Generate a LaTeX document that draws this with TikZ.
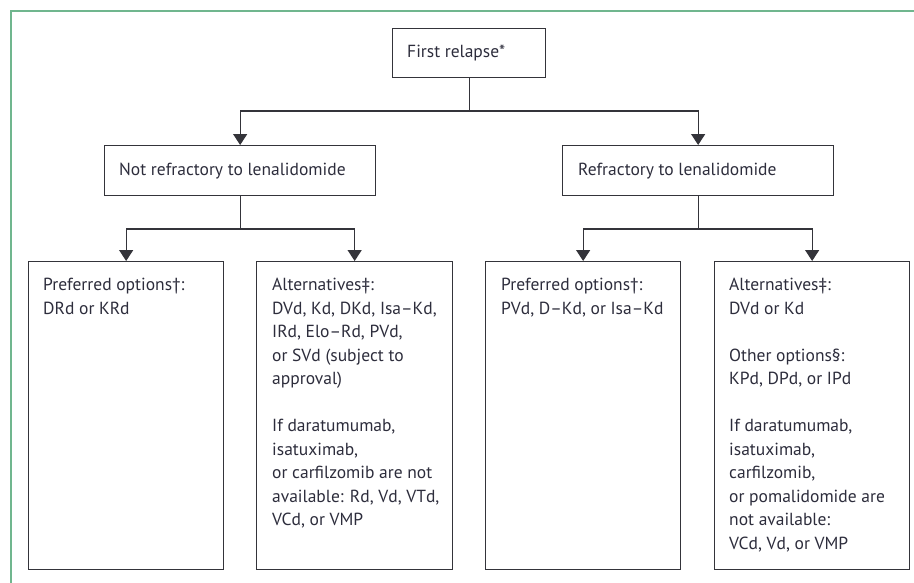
\documentclass[tikz,border=0pt]{standalone}
\usepackage{fontspec}
\setmainfont{PT Sans}
\usetikzlibrary{arrows.meta}
\definecolor{framegreen}{RGB}{112,182,142}
\definecolor{inkgray}{RGB}{52,52,58}
\definecolor{txtgray}{RGB}{45,45,60}
\tikzset{
  box/.style={draw=inkgray, line width=1.3pt, inner sep=0pt, anchor=north west},
  lbl/.style={inner sep=0pt, anchor=base west, text=txtgray, font=\fontsize{17.5}{23.5}\selectfont},
  conn/.style={draw=inkgray, line width=1.3pt},
  arr/.style={conn, -{Triangle[width=14pt,length=11pt]}},
}
\newcommand{\boxtext}[2]{\parbox[t]{#1pt}{\raggedright #2}}
\begin{document}
\begin{tikzpicture}[x=1pt,y=-1pt]
\useasboundingbox (0,0) rectangle (914,582);
% frame
\draw[framegreen, line width=2.2pt] (11,590) -- (11,11) -- (920,11);
% top box
\node[box, minimum width=153pt, minimum height=49pt] (fr) at (392,28) {};
\node[lbl] (frt) at (407,57) {First relapse*};
% second level
\node[box, minimum width=271pt, minimum height=50pt] (nr) at (104,145) {};
\node[lbl] (nrt) at (119,175) {Not refractory to lenalidomide};
\node[box, minimum width=271pt, minimum height=50pt] (rr) at (562,145) {};
\node[lbl] (rrt) at (578,175) {Refractory to lenalidomide};
% bottom boxes
\node[box, minimum width=195pt, minimum height=308pt] (b1) at (28,261) {};
\node[box, minimum width=196pt, minimum height=308pt] (b2) at (256,261) {};
\node[box, minimum width=195pt, minimum height=308pt] (b3) at (485,261) {};
\node[box, minimum width=195pt, minimum height=308pt] (b4) at (714,261) {};
\node[lbl] (b1t) at (43,290.5) {\boxtext{175}{Preferred options†:\\DRd or KRd}};
\node[lbl] (b2t) at (272,290.5) {\boxtext{178}{Alternatives‡:\\DVd, Kd, DKd, Isa–Kd,\\IRd, Elo–Rd, PVd,\\or SVd (subject to\\approval)\\[23.5pt]If daratumumab,\\isatuximab,\\or carfilzomib are not\\available: Rd, Vd, VTd,\\VCd, or VMP}};
\node[lbl] (b3t) at (501,290.5) {\boxtext{175}{Preferred options†:\\PVd, D–Kd, or Isa–Kd}};
\node[lbl] (b4t) at (729,290.5) {\boxtext{178}{Alternatives‡:\\DVd or Kd\\[23.5pt]Other options§:\\KPd, DPd, or IPd\\[23.5pt]If daratumumab,\\isatuximab,\\carfilzomib,\\or pomalidomide are\\not available:\\VCd, Vd, or VMP}};
% junctions
\coordinate (j0) at (fr.south |- 0,111);
\coordinate (j1) at (nr.south |- 0,229);
\coordinate (j2) at (rr.south |- 0,229);
% connectors
\draw[conn] (fr.south) -- (j0);
\draw[arr] (j0) -| (nr.north);
\draw[arr] (j0) -| (rr.north);
\draw[conn] (nr.south) -- (j1);
\draw[arr] (j1) -| (b1.north);
\draw[arr] (j1) -| (b2.north);
\draw[conn] (rr.south) -- (j2);
\draw[arr] (j2) -| (b3.north);
\draw[arr] (j2) -| (b4.north);
\end{tikzpicture}
\end{document}
